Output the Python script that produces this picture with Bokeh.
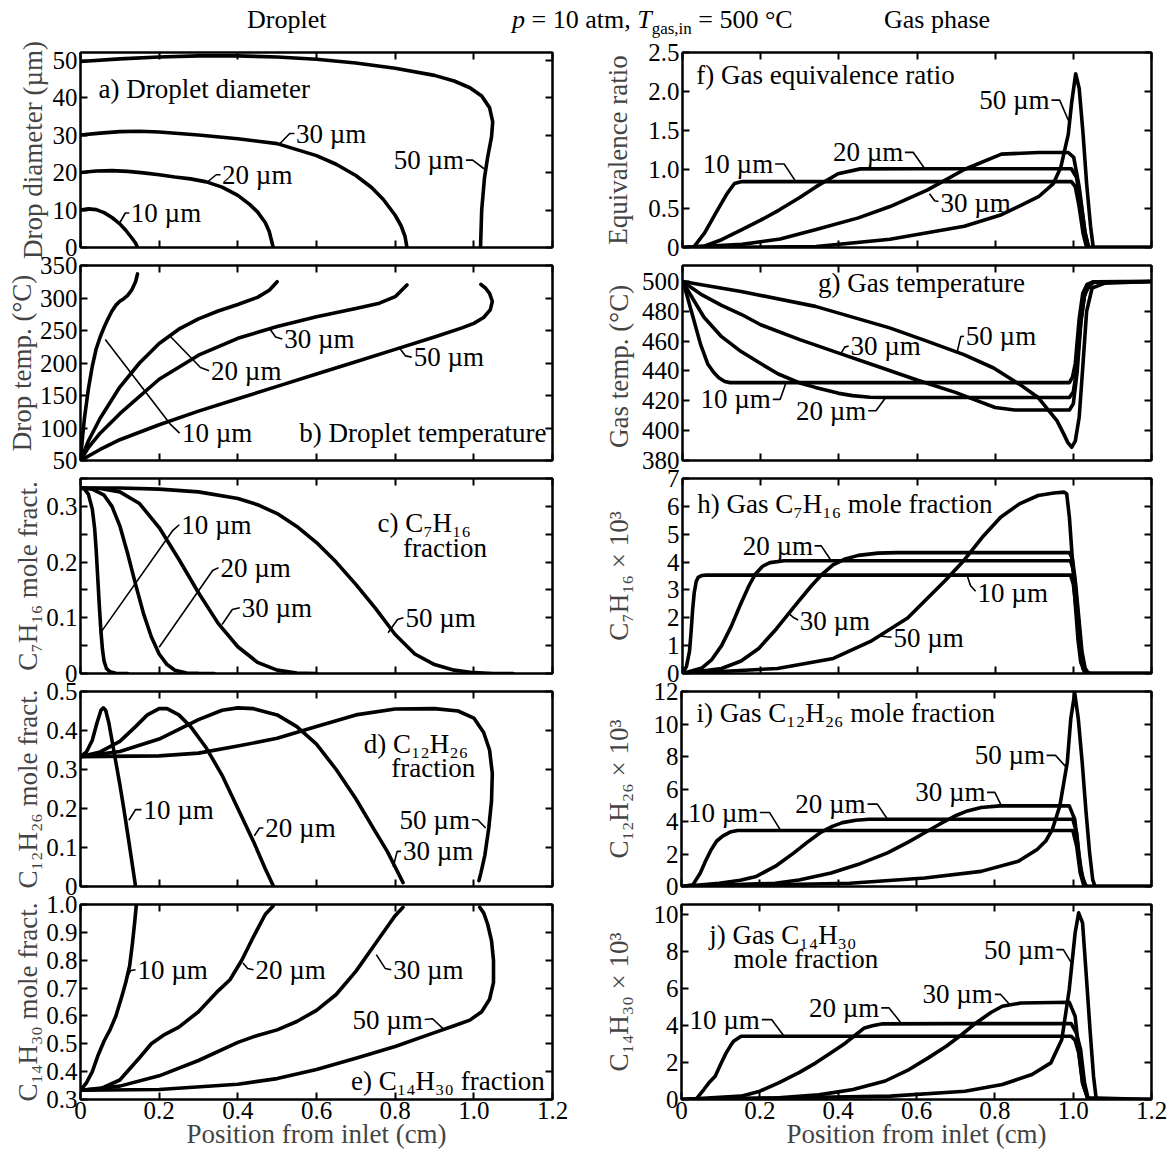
from bokeh.plotting import figure
from bokeh.models import (Range1d, LinearAxis, FixedTicker, CustomJSTickFormatter,
                          Label, Div, ColumnDataSource)
from bokeh.layouts import column, row
from bokeh.embed import file_html
from bokeh.resources import INLINE

FONT = "Liberation Serif"
TICK_FS = "25px"
AXIS_FS = "27px"
NOTE_FS = "27px"

# ---------------- axes ----------------
x_ticks = [0, 0.2, 0.4, 0.6, 0.8, 1.0, 1.2]
x_tick_labels = ["0", "0.2", "0.4", "0.6", "0.8", "1.0", "1.2"]

# ---------------- a) droplet diameter (um) ----------------
dd_x_10 = [0, 0.02, 0.04, 0.06, 0.08, 0.1, 0.115, 0.13, 0.14, 0.145]
dd_y_10 = [10, 10.3, 10.1, 9.3, 8.0, 6.3, 4.6, 2.6, 1.2, 0]
dd_x_20 = [0, 0.04, 0.08, 0.12, 0.16, 0.2, 0.24, 0.28, 0.32, 0.36, 0.4, 0.43, 0.45, 0.47, 0.48, 0.49]
dd_y_20 = [20, 20.4, 20.5, 20.3, 19.9, 19.4, 18.8, 18.3, 17.5, 16.1, 13.9, 11.5, 9.5, 6.6, 4.2, 0]
dd_x_30 = [0, 0.05, 0.1, 0.15, 0.2, 0.3, 0.4, 0.5, 0.6, 0.65, 0.7, 0.74, 0.77, 0.8, 0.815, 0.825, 0.83]
dd_y_30 = [30, 30.5, 30.9, 31.0, 30.8, 30.0, 29.0, 27.7, 24.5, 22.2, 19.2, 16.0, 12.8, 8.6, 5.8, 3.0, 0]
dd_x_50 = [0, 0.1, 0.2, 0.3, 0.4, 0.5, 0.6, 0.7, 0.8, 0.9, 0.95, 0.99, 1.02, 1.04, 1.048, 1.045, 1.035, 1.027, 1.02, 1.017]
dd_y_50 = [49.6, 50.3, 50.8, 51.1, 51.1, 50.8, 50.2, 49.2, 47.8, 45.9, 44.4, 42.6, 40.4, 37.3, 33.5, 29.5, 24.0, 18.5, 10.0, 0]

# ---------------- b) droplet temperature (C) ----------------
dt_x_10 = [0, 0.005, 0.01, 0.02, 0.03, 0.04, 0.05, 0.06, 0.07, 0.08, 0.09, 0.1, 0.11, 0.12, 0.13, 0.14, 0.145]
dt_y_10 = [50, 85, 115, 160, 195, 222, 240, 255, 268, 280, 289, 295, 299, 304, 312, 325, 337]
dt_x_20 = [0, 0.02, 0.05, 0.1, 0.15, 0.2, 0.25, 0.3, 0.35, 0.4, 0.45, 0.48, 0.5]
dt_y_20 = [50, 80, 115, 163, 200, 230, 252, 268, 280, 290, 301, 312, 325]
dt_x_30 = [0, 0.02, 0.05, 0.1, 0.2, 0.3, 0.4, 0.5, 0.6, 0.7, 0.76, 0.8, 0.83]
dt_y_30 = [50, 70, 92, 122, 175, 212, 238, 256, 271, 284, 292, 302, 320]
dt_x_50 = [0, 0.05, 0.1, 0.2, 0.3, 0.4, 0.5, 0.6, 0.7, 0.8, 0.9, 0.97, 1.0, 1.025, 1.042, 1.047, 1.04, 1.03, 1.018]
dt_y_50 = [50, 67, 82, 105, 126, 145, 164, 183, 202, 221, 240, 254, 261, 270, 282, 295, 307, 315, 321]

# ---------------- c) droplet C7H16 mole fraction ----------------
c7_x_10 = [0, 0.01, 0.02, 0.03, 0.036, 0.04, 0.044, 0.048, 0.052, 0.056, 0.06, 0.066, 0.075, 0.09, 0.12]
c7_y_10 = [0.333, 0.331, 0.322, 0.295, 0.26, 0.22, 0.17, 0.12, 0.075, 0.042, 0.022, 0.009, 0.003, 0.0005, 0]
c7_x_20 = [0, 0.03, 0.06, 0.08, 0.1, 0.12, 0.14, 0.16, 0.18, 0.2, 0.22, 0.24, 0.27, 0.3, 0.34]
c7_y_20 = [0.333, 0.331, 0.32, 0.3, 0.265, 0.215, 0.16, 0.108, 0.066, 0.035, 0.016, 0.006, 0.001, 0.0002, 0]
c7_x_30 = [0, 0.05, 0.1, 0.15, 0.2, 0.25, 0.3, 0.35, 0.4, 0.45, 0.5, 0.55, 0.6]
c7_y_30 = [0.333, 0.332, 0.326, 0.305, 0.262, 0.205, 0.145, 0.09, 0.048, 0.02, 0.006, 0.001, 0]
c7_x_50 = [0, 0.1, 0.2, 0.3, 0.4, 0.45, 0.5, 0.55, 0.6, 0.65, 0.7, 0.75, 0.8, 0.85, 0.9, 0.95, 1.0, 1.05, 1.1]
c7_y_50 = [0.333, 0.333, 0.331, 0.326, 0.314, 0.303, 0.287, 0.264, 0.235, 0.2, 0.16, 0.117, 0.07, 0.035, 0.016, 0.006, 0.0015, 0, 0]

# ---------------- d) droplet C12H26 mole fraction ----------------
c12_x_10 = [0, 0.015, 0.03, 0.042, 0.052, 0.058, 0.064, 0.072, 0.08, 0.09, 0.1, 0.11, 0.12, 0.13, 0.14]
c12_y_10 = [0.333, 0.345, 0.375, 0.42, 0.452, 0.458, 0.452, 0.42, 0.375, 0.318, 0.262, 0.2, 0.135, 0.068, 0]
c12_x_20 = [0, 0.05, 0.1, 0.14, 0.17, 0.2, 0.22, 0.25, 0.28, 0.32, 0.36, 0.4, 0.44, 0.47, 0.49]
c12_y_20 = [0.333, 0.345, 0.372, 0.41, 0.44, 0.456, 0.456, 0.44, 0.41, 0.355, 0.285, 0.2, 0.115, 0.045, 0.002]
c12_x_30 = [0, 0.1, 0.2, 0.3, 0.36, 0.4, 0.44, 0.5, 0.55, 0.6, 0.65, 0.7, 0.75, 0.78, 0.8, 0.82]
c12_y_30 = [0.333, 0.346, 0.378, 0.428, 0.452, 0.458, 0.456, 0.44, 0.41, 0.365, 0.3, 0.225, 0.14, 0.09, 0.05, 0.01]
c12_x_50 = [0, 0.2, 0.3, 0.4, 0.5, 0.6, 0.7, 0.8, 0.9, 0.96, 1.0, 1.025, 1.04, 1.047, 1.045, 1.038, 1.028, 1.018, 1.013]
c12_y_50 = [0.333, 0.335, 0.342, 0.36, 0.38, 0.41, 0.44, 0.455, 0.456, 0.45, 0.432, 0.395, 0.35, 0.29, 0.22, 0.15, 0.08, 0.035, 0.015]

# ---------------- e) droplet C14H30 mole fraction ----------------
c14_x_10 = [0, 0.015, 0.03, 0.045, 0.06, 0.075, 0.09, 0.105, 0.115, 0.125, 0.132, 0.138, 0.142]
c14_y_10 = [0.333, 0.36, 0.4, 0.46, 0.51, 0.55, 0.6, 0.67, 0.72, 0.78, 0.86, 0.94, 1.0]
c14_x_20 = [0, 0.05, 0.1, 0.15, 0.18, 0.21, 0.25, 0.3, 0.35, 0.38, 0.41, 0.44, 0.47, 0.49]
c14_y_20 = [0.333, 0.338, 0.37, 0.45, 0.5, 0.53, 0.56, 0.615, 0.69, 0.73, 0.8, 0.885, 0.965, 0.995]
c14_x_30 = [0, 0.1, 0.2, 0.3, 0.4, 0.45, 0.5, 0.55, 0.6, 0.65, 0.7, 0.75, 0.78, 0.8, 0.82]
c14_y_30 = [0.333, 0.348, 0.385, 0.44, 0.505, 0.53, 0.55, 0.58, 0.62, 0.677, 0.76, 0.86, 0.92, 0.96, 0.99]
c14_x_50 = [0, 0.2, 0.4, 0.5, 0.6, 0.7, 0.8, 0.9, 0.95, 0.99, 1.02, 1.04, 1.05, 1.05, 1.045, 1.035, 1.025, 1.015]
c14_y_50 = [0.333, 0.336, 0.355, 0.375, 0.408, 0.448, 0.49, 0.54, 0.565, 0.585, 0.615, 0.66, 0.72, 0.8, 0.87, 0.93, 0.97, 0.99]

# ---------------- f) gas equivalence ratio ----------------
phi_x_10 = [0, 0.028, 0.057, 0.085, 0.114, 0.133, 0.152, 0.5, 0.995, 1.005, 1.015, 1.025, 1.034, 1.2]
phi_y_10 = [0, 0, 0.19, 0.44, 0.69, 0.82, 0.845, 0.845, 0.845, 0.78, 0.52, 0.18, 0, 0]
phi_x_20 = [0, 0.057, 0.1, 0.152, 0.2, 0.247, 0.3, 0.342, 0.398, 0.455, 0.6, 0.8, 0.995, 1.008, 1.02, 1.03, 1.039, 1.2]
phi_y_20 = [0, 0.02, 0.1, 0.23, 0.35, 0.48, 0.64, 0.78, 0.945, 1.008, 1.01, 1.01, 1.01, 0.9, 0.55, 0.19, 0, 0]
phi_x_30 = [0, 0.152, 0.25, 0.342, 0.45, 0.531, 0.626, 0.721, 0.816, 0.911, 0.987, 1.001, 1.015, 1.03, 1.039, 1.2]
phi_y_30 = [0, 0.04, 0.11, 0.23, 0.38, 0.525, 0.735, 1.0, 1.197, 1.218, 1.218, 1.155, 0.777, 0.19, 0, 0]
phi_x_50 = [0, 0.342, 0.531, 0.721, 0.816, 0.911, 0.949, 0.968, 0.987, 0.996, 1.006, 1.015, 1.025, 1.034, 1.044, 1.051, 1.2]
phi_y_50 = [0, 0.012, 0.105, 0.273, 0.42, 0.651, 0.82, 1.03, 1.45, 1.87, 2.227, 2.04, 1.45, 0.82, 0.273, 0, 0]

# ---------------- g) gas temperature (C) ----------------
tg_x_10 = [0, 0.01, 0.027, 0.046, 0.065, 0.08, 0.093, 0.108, 0.122, 0.5, 0.99, 0.998, 1.005, 1.015, 1.024, 1.035, 1.05, 1.2]
tg_y_10 = [500, 492, 476, 458, 444.5, 439, 435.5, 433, 432.2, 432.2, 432.2, 436, 445, 475, 492, 498, 499.7, 500]
tg_x_20 = [0, 0.055, 0.1, 0.15, 0.2, 0.245, 0.3, 0.34, 0.4, 0.435, 0.48, 0.52, 0.99, 1.0, 1.008, 1.018, 1.028, 1.04, 1.055, 1.2]
tg_y_20 = [500, 476, 463, 453, 445, 438, 432, 429, 425, 423.5, 422.4, 422.2, 422.2, 426, 440, 470, 490, 497.5, 499.7, 500]
tg_x_30 = [0, 0.05, 0.1, 0.15, 0.2, 0.3, 0.4, 0.5, 0.6, 0.7, 0.75, 0.8, 0.85, 0.99, 1.0, 1.01, 1.02, 1.03, 1.05, 1.2]
tg_y_30 = [500, 491, 484, 478, 471, 461, 452, 443, 434, 425.5, 420.5, 415.5, 413.8, 413.8, 418, 440, 475, 493, 499.5, 500]
tg_x_50 = [0, 0.15, 0.34, 0.53, 0.62, 0.72, 0.796, 0.863, 0.91, 0.958, 0.975, 0.986, 0.996, 1.005, 1.015, 1.024, 1.034, 1.048, 1.081, 1.2]
tg_y_50 = [500, 493.3, 483.3, 468.9, 460.5, 451, 442, 431, 422.2, 406.7, 398, 392, 388.9, 393, 409, 442, 480, 495.6, 498.9, 500]

# ---------------- h) gas C7H16 mole fraction x 10^3 ----------------
g7_x_10 = [0, 0.01, 0.018, 0.022, 0.026, 0.03, 0.035, 0.04, 0.05, 0.06, 0.5, 0.993, 1.0, 1.008, 1.016, 1.024, 1.03, 1.2]
g7_y_10 = [0, 0.25, 0.8, 1.5, 2.3, 2.9, 3.3, 3.45, 3.52, 3.53, 3.53, 3.53, 3.2, 2.2, 1.0, 0.2, 0, 0]
g7_x_20 = [0, 0.05, 0.075, 0.1, 0.125, 0.148, 0.17, 0.186, 0.205, 0.224, 0.26, 0.6, 0.993, 1.002, 1.01, 1.018, 1.026, 1.034, 1.2]
g7_y_20 = [0, 0.2, 0.5, 1.0, 1.7, 2.47, 3.15, 3.56, 3.85, 3.98, 4.05, 4.05, 4.05, 3.6, 2.4, 1.1, 0.25, 0, 0]
g7_x_30 = [0, 0.1, 0.15, 0.195, 0.24, 0.29, 0.33, 0.357, 0.385, 0.414, 0.45, 0.5, 0.55, 0.99, 0.998, 1.006, 1.014, 1.022, 1.03, 1.038, 1.2]
g7_y_30 = [0, 0.18, 0.45, 0.9, 1.6, 2.47, 3.15, 3.56, 3.9, 4.1, 4.24, 4.32, 4.34, 4.34, 4.1, 3.2, 2.0, 0.8, 0.2, 0, 0]
g7_x_50 = [0, 0.243, 0.386, 0.481, 0.576, 0.671, 0.719, 0.767, 0.814, 0.862, 0.91, 0.95, 0.976, 0.983, 0.99, 0.997, 1.005, 1.012, 1.019, 1.03, 1.043, 1.2]
g7_y_50 = [0, 0.18, 0.54, 1.15, 1.99, 3.32, 4.04, 4.89, 5.61, 6.09, 6.39, 6.48, 6.51, 6.45, 5.6, 4.2, 2.5, 1.2, 0.4, 0.08, 0, 0]

# ---------------- i) gas C12H26 mole fraction x 10^3 ----------------
g12_x_10 = [0, 0.029, 0.048, 0.062, 0.076, 0.09, 0.105, 0.124, 0.143, 0.5, 0.999, 1.009, 1.018, 1.028, 1.2]
g12_y_10 = [0, 0.1, 0.83, 1.6, 2.28, 2.8, 3.1, 3.35, 3.45, 3.45, 3.45, 2.48, 0.83, 0, 0]
g12_x_20 = [0, 0.096, 0.15, 0.191, 0.24, 0.287, 0.32, 0.354, 0.385, 0.411, 0.445, 0.478, 0.7, 0.999, 1.009, 1.018, 1.028, 1.035, 1.2]
g12_y_20 = [0, 0.2, 0.38, 0.62, 1.25, 2.07, 2.7, 3.31, 3.7, 3.93, 4.08, 4.14, 4.14, 4.14, 3.31, 1.24, 0.2, 0, 0]
g12_x_30 = [0, 0.239, 0.3, 0.382, 0.45, 0.526, 0.58, 0.621, 0.66, 0.698, 0.73, 0.765, 0.813, 0.99, 1.004, 1.014, 1.023, 1.033, 1.2]
g12_y_30 = [0, 0.2, 0.4, 0.83, 1.35, 2.07, 2.75, 3.31, 3.85, 4.34, 4.65, 4.86, 4.96, 4.96, 4.14, 2.07, 0.62, 0, 0]
g12_x_50 = [0, 0.43, 0.621, 0.765, 0.86, 0.908, 0.93, 0.947, 0.966, 0.985, 0.994, 1.004, 1.013, 1.023, 1.033, 1.042, 1.05, 1.056, 1.2]
g12_y_50 = [0, 0.2, 0.52, 0.93, 1.55, 2.28, 2.8, 3.52, 4.96, 7.65, 10.34, 11.9, 10.34, 7.65, 4.55, 2.07, 0.41, 0, 0]

# ---------------- j) gas C14H30 mole fraction x 10^3 ----------------
g14_x_10 = [0, 0.038, 0.057, 0.07, 0.086, 0.1, 0.114, 0.125, 0.133, 0.152, 0.5, 0.995, 1.005, 1.014, 1.024, 1.038, 1.2]
g14_y_10 = [0, 0.04, 0.54, 0.9, 1.26, 1.9, 2.52, 2.9, 3.15, 3.42, 3.42, 3.42, 3.2, 2.52, 0.9, 0, 0]
g14_x_20 = [0, 0.152, 0.2, 0.248, 0.3, 0.343, 0.38, 0.419, 0.445, 0.467, 0.49, 0.514, 0.7, 0.995, 1.008, 1.019, 1.029, 1.038, 1.2]
g14_y_20 = [0, 0.18, 0.45, 0.9, 1.45, 1.98, 2.5, 3.06, 3.5, 3.87, 4.0, 4.09, 4.1, 4.1, 3.6, 2.7, 0.9, 0.09, 0]
g14_x_30 = [0, 0.248, 0.35, 0.438, 0.52, 0.581, 0.63, 0.676, 0.715, 0.752, 0.79, 0.819, 0.867, 0.99, 1.005, 1.014, 1.024, 1.038, 1.2]
g14_y_30 = [0, 0.09, 0.25, 0.54, 1.0, 1.62, 2.25, 2.88, 3.5, 4.14, 4.7, 5.04, 5.22, 5.26, 4.5, 2.7, 0.9, 0, 0]
g14_x_50 = [0, 0.533, 0.724, 0.819, 0.895, 0.943, 0.971, 0.99, 1.005, 1.014, 1.024, 1.033, 1.043, 1.052, 1.059, 1.2]
g14_y_50 = [0, 0.18, 0.45, 0.81, 1.35, 1.98, 3.24, 5.95, 9.0, 10.09, 9.55, 6.85, 3.78, 1.26, 0, 0]


def tick_fmt(vals, labels):
    return CustomJSTickFormatter(args=dict(tv=vals, tl=labels), code="""
        let best = 0; let bd = Infinity;
        for (let i = 0; i < tv.length; i++) {
            const d = Math.abs(tv[i] - tick);
            if (d < bd) { bd = d; best = i; }
        }
        return tl[best];
    """)


def make_axis(ticks, labels, show, standoff=3):
    ax = LinearAxis(ticker=FixedTicker(ticks=ticks, minor_ticks=[]),
                    formatter=tick_fmt(ticks, labels),
                    major_tick_in=7, major_tick_out=0,
                    major_tick_line_width=2, major_tick_line_color="black",
                    minor_tick_line_color=None,
                    axis_line_width=2, axis_line_color="black")
    if show:
        ax.major_label_text_font = FONT
        ax.major_label_text_font_size = TICK_FS
        ax.major_label_text_color = "black"
        ax.major_label_standoff = standoff
    else:
        ax.major_label_text_color = None
        ax.major_label_standoff = 0
    return ax


EXTRA = 12  # canvas overlap so that edge tick labels are not clipped


def make_panel(width, height, borders, pos, yr, yticks, ylabels, ylabel, ylab_standoff,
               series, notes, bottom=False):
    bl, br, bt, bb = borders
    mt = mb = 0
    if pos in ("mid", "last"):
        bt += EXTRA
        height += EXTRA
        mt = -EXTRA
    if pos in ("first", "mid"):
        bb += EXTRA
        height += EXTRA
        mb = -EXTRA
    p = figure(width=width, height=height, x_range=Range1d(0, 1.2), y_range=Range1d(*yr),
               output_backend="svg", toolbar_location=None, tools="",
               min_border=0, min_border_left=bl, min_border_right=br,
               min_border_top=bt, min_border_bottom=bb,
               x_axis_location=None, y_axis_location=None,
               background_fill_color="white", border_fill_color=None,
               margin=(mt, 0, mb, 0))
    p.outline_line_color = "black"
    p.outline_line_width = 2
    for g in p.grid:
        g.visible = False

    yl = make_axis(yticks, ylabels, True, 3)
    yl.axis_label = ylabel
    yl.axis_label_text_font = FONT
    yl.axis_label_text_font_size = AXIS_FS
    yl.axis_label_text_font_style = "normal"
    yl.axis_label_standoff = ylab_standoff
    p.add_layout(yl, "left")
    p.add_layout(make_axis(yticks, ylabels, False), "right")
    p.add_layout(make_axis(x_ticks, x_tick_labels, False), "above")
    xb = make_axis(x_ticks, x_tick_labels, bottom, 2)
    if bottom:
        xb.axis_label = "Position from inlet (cm)"
        xb.axis_label_text_font = FONT
        xb.axis_label_text_font_size = AXIS_FS
        xb.axis_label_text_font_style = "normal"
        xb.axis_label_standoff = -3
    p.add_layout(xb, "below")

    for xs, ys in series:
        p.line(xs, ys, line_color="black", line_width=3.6, line_join="round", line_cap="round")

    lx, ly = [], []
    for (txt, tx, ty, align, leader) in notes:
        p.add_layout(Label(x=tx, y=ty, text=txt, text_font=FONT, text_font_size=NOTE_FS,
                           text_color="black", text_baseline="middle", text_align=align))
        if leader:
            lx.append([pt[0] for pt in leader])
            ly.append([pt[1] for pt in leader])
    if lx:
        p.multi_line(xs="xs", ys="ys", source=ColumnDataSource(dict(xs=lx, ys=ly)),
                     line_color="black", line_width=1.6)
    return p


LW, RW = 600, 572
LB = (80, 48)
RB = (79, 21)

# row heights / vertical borders (height, top, bottom)
R1 = (220, 16, 9)
RM = (213, 9, 9)
R5 = (261, 9, 57)

pa = make_panel(LW, R1[0], LB + R1[1:], "first", (0, 52), [0, 10, 20, 30, 40, 50],
                ["0", "10", "20", "30", "40", "50"], "Drop diameter (µm)", 2,
                [(dd_x_10, dd_y_10), (dd_x_20, dd_y_20), (dd_x_30, dd_y_30), (dd_x_50, dd_y_50)],
                [("a) Droplet diameter", 0.046, 42.3, "left", None),
                 ("10 µm", 0.128, 9.2, "left", [(0.1, 6.6), (0.114, 9.2), (0.124, 9.2)]),
                 ("20 µm", 0.36, 19.4, "left", [(0.322, 17.4), (0.345, 19.4), (0.356, 19.4)]),
                 ("30 µm", 0.548, 30.4, "left", [(0.506, 27.6), (0.532, 30.4), (0.544, 30.4)]),
                 ("50 µm", 0.975, 23.3, "right", [(0.98, 23.3), (0.997, 23.3), (1.026, 21.0)])])

pb = make_panel(LW, RM[0], LB + RM[1:], "mid", (50, 350), [50, 100, 150, 200, 250, 300, 350],
                ["50", "100", "150", "200", "250", "300", "350"], "Drop temp. (°C)", 0,
                [(dt_x_10, dt_y_10), (dt_x_20, dt_y_20), (dt_x_30, dt_y_30), (dt_x_50, dt_y_50)],
                [("b) Droplet temperature", 1.185, 92, "right", None),
                 ("10 µm", 0.258, 92, "left", [(0.063, 236), (0.228, 106), (0.252, 92)]),
                 ("20 µm", 0.332, 188, "left", [(0.225, 243), (0.305, 193), (0.327, 188)]),
                 ("30 µm", 0.518, 237, "left", [(0.482, 252), (0.496, 240), (0.513, 237)]),
                 ("50 µm", 0.847, 209, "left", [(0.811, 223), (0.826, 211), (0.842, 209)])])

pc = make_panel(LW, RM[0], LB + RM[1:], "mid", (0, 0.35), [0, 0.05, 0.1, 0.15, 0.2, 0.25, 0.3, 0.35],
                ["0", "", "0.1", "", "0.2", "", "0.3", ""], "C₇H₁₆ mole fract.", 0,
                [(c7_x_10, c7_y_10), (c7_x_20, c7_y_20), (c7_x_30, c7_y_30), (c7_x_50, c7_y_50)],
                [("c) C₇H₁₆", 0.755, 0.27, "left", None),
                 ("fraction", 0.82, 0.226, "left", None),
                 ("10 µm", 0.256, 0.267, "left", [(0.05, 0.072), (0.235, 0.257), (0.251, 0.267)]),
                 ("20 µm", 0.356, 0.19, "left", [(0.2, 0.047), (0.336, 0.185), (0.351, 0.19)]),
                 ("30 µm", 0.41, 0.118, "left", [(0.36, 0.088), (0.386, 0.115), (0.405, 0.118)]),
                 ("50 µm", 0.826, 0.1, "left", [(0.782, 0.073), (0.806, 0.097), (0.821, 0.1)])])

pd_ = make_panel(LW, RM[0], LB + RM[1:], "mid", (0, 0.5), [0, 0.1, 0.2, 0.3, 0.4, 0.5],
                 ["0", "0.1", "0.2", "0.3", "0.4", "0.5"], "C₁₂H₂₆ mole fract.", 0,
                 [(c12_x_10, c12_y_10), (c12_x_20, c12_y_20), (c12_x_30, c12_y_30), (c12_x_50, c12_y_50)],
                 [("d) C₁₂H₂₆", 0.72, 0.366, "left", None),
                  ("fraction", 0.79, 0.305, "left", None),
                  ("10 µm", 0.16, 0.197, "left", [(0.123, 0.17), (0.14, 0.197), (0.155, 0.197)]),
                  ("20 µm", 0.47, 0.15, "left", [(0.442, 0.13), (0.455, 0.15), (0.465, 0.15)]),
                  ("50 µm", 0.99, 0.171, "right", [(0.995, 0.171), (1.01, 0.171), (1.03, 0.15)]),
                  ("30 µm", 0.82, 0.09, "left", [(0.795, 0.05), (0.805, 0.09), (0.815, 0.09)])])

pe = make_panel(LW, R5[0], LB + R5[1:], "last", (0.3, 1.0), [0.3, 0.4, 0.5, 0.6, 0.7, 0.8, 0.9, 1.0],
                ["0.3", "0.4", "0.5", "0.6", "0.7", "0.8", "0.9", "1.0"], "C₁₄H₃₀ mole fract.", 0,
                [(c14_x_10, c14_y_10), (c14_x_20, c14_y_20), (c14_x_30, c14_y_30), (c14_x_50, c14_y_50)],
                [("e) C₁₄H₃₀ fraction", 1.18, 0.366, "right", None),
                 ("10 µm", 0.145, 0.766, "left", [(0.12, 0.745), (0.128, 0.763), (0.14, 0.766)]),
                 ("20 µm", 0.445, 0.766, "left", [(0.413, 0.79), (0.425, 0.77), (0.44, 0.766)]),
                 ("30 µm", 0.795, 0.766, "left", [(0.752, 0.82), (0.775, 0.77), (0.79, 0.766)]),
                 ("50 µm", 0.87, 0.587, "right", [(0.875, 0.587), (0.895, 0.59), (0.925, 0.55)])],
                bottom=True)

pf = make_panel(RW, R1[0], RB + R1[1:], "first", (0, 2.5), [0, 0.5, 1.0, 1.5, 2.0, 2.5],
                ["0", "0.5", "1.0", "1.5", "2.0", "2.5"], "Equivalence ratio", 12,
                [(phi_x_10, phi_y_10), (phi_x_20, phi_y_20), (phi_x_30, phi_y_30), (phi_x_50, phi_y_50)],
                [("f) Gas equivalence ratio", 0.035, 2.21, "left", None),
                 ("50 µm", 0.939, 1.89, "right", [(0.944, 1.89), (0.965, 1.89), (0.99, 1.6)]),
                 ("10 µm", 0.232, 1.07, "right", [(0.237, 1.07), (0.26, 1.07), (0.29, 0.845)]),
                 ("20 µm", 0.565, 1.22, "right", [(0.569, 1.22), (0.59, 1.22), (0.62, 1.01)]),
                 ("30 µm", 0.66, 0.567, "left", [(0.632, 0.69), (0.645, 0.6), (0.655, 0.59)])])

pg = make_panel(RW, RM[0], RB + RM[1:], "mid", (380, 510.7), [380, 400, 420, 440, 460, 480, 500],
                ["380", "400", "420", "440", "460", "480", "500"], "Gas  temp. (°C)", 5,
                [(tg_x_10, tg_y_10), (tg_x_20, tg_y_20), (tg_x_30, tg_y_30), (tg_x_50, tg_y_50)],
                [("g) Gas temperature", 0.347, 499, "left", None),
                 ("50 µm", 0.725, 463.3, "left", [(0.703, 453), (0.712, 463), (0.72, 463.3)]),
                 ("30 µm", 0.43, 456.7, "left", [(0.405, 451.5), (0.415, 456), (0.425, 456.7)]),
                 ("10 µm", 0.226, 421, "right", [(0.231, 421), (0.25, 421), (0.265, 432.2)]),
                 ("20 µm", 0.47, 413.3, "right", [(0.475, 413.3), (0.495, 413.3), (0.52, 422.2)])])

ph = make_panel(RW, RM[0], RB + RM[1:], "mid", (0, 7), [0, 1, 2, 3, 4, 5, 6, 7],
                ["0", "1", "2", "3", "4", "5", "6", "7"], "C₇H₁₆ × 10³", 30,
                [(g7_x_10, g7_y_10), (g7_x_20, g7_y_20), (g7_x_30, g7_y_30), (g7_x_50, g7_y_50)],
                [("h) Gas C₇H₁₆ mole fraction", 0.038, 6.09, "left", None),
                 ("20 µm", 0.334, 4.58, "right", [(0.338, 4.58), (0.355, 4.58), (0.378, 4.1)]),
                 ("10 µm", 0.755, 2.9, "left", [(0.728, 3.53), (0.737, 3.15), (0.75, 2.95)]),
                 ("30 µm", 0.3, 1.87, "left", [(0.272, 2.16), (0.285, 2.0), (0.296, 1.92)]),
                 ("50 µm", 0.54, 1.27, "left", [(0.505, 1.35), (0.522, 1.32), (0.535, 1.3)])])

pi = make_panel(RW, RM[0], RB + RM[1:], "mid", (0, 12), [0, 2, 4, 6, 8, 10, 12],
                ["0", "2", "4", "6", "8", "10", "12"], "C₁₂H₂₆ × 10³", 17,
                [(g12_x_10, g12_y_10), (g12_x_20, g12_y_20), (g12_x_30, g12_y_30), (g12_x_50, g12_y_50)],
                [("i) Gas C₁₂H₂₆ mole fraction", 0.038, 10.65, "left", None),
                 ("10 µm", 0.196, 4.55, "right", [(0.2, 4.55), (0.225, 4.55), (0.253, 3.45)]),
                 ("20 µm", 0.47, 5.07, "right", [(0.475, 5.07), (0.5, 5.07), (0.526, 4.14)]),
                 ("30 µm", 0.776, 5.79, "right", [(0.78, 5.79), (0.8, 5.79), (0.817, 4.96)]),
                 ("50 µm", 0.928, 8.07, "right", [(0.932, 8.07), (0.955, 8.07), (0.98, 7.4)])])

pj = make_panel(RW, R5[0], RB + R5[1:], "last", (0, 10.54), [0, 2, 4, 6, 8, 10],
                ["0", "2", "4", "6", "8", "10"], "C₁₄H₃₀ × 10³", 17,
                [(g14_x_10, g14_y_10), (g14_x_20, g14_y_20), (g14_x_30, g14_y_30), (g14_x_50, g14_y_50)],
                [("j) Gas C₁₄H₃₀", 0.071, 8.9, "left", None),
                 ("mole fraction", 0.133, 7.6, "left", None),
                 ("10 µm", 0.2, 4.32, "right", [(0.205, 4.32), (0.23, 4.32), (0.262, 3.42)]),
                 ("20 µm", 0.505, 4.95, "right", [(0.51, 4.95), (0.53, 4.95), (0.562, 4.1)]),
                 ("30 µm", 0.795, 5.68, "right", [(0.8, 5.68), (0.815, 5.68), (0.838, 5.13)]),
                 ("50 µm", 0.952, 8.1, "right", [(0.957, 8.1), (0.975, 8.1), (0.995, 7.4)])],
                bottom=True)

title = Div(width=1172, height=36, margin=(0, 0, 0, 0), text=(
    "<div style=\"position:relative;width:1172px;height:36px;font-family:'Liberation Serif',serif;"
    "font-size:26px;line-height:28px;color:#000;white-space:nowrap\">"
    "<span style=\"position:absolute;left:247px;top:6px\">Droplet</span>"
    "<span style=\"position:absolute;left:512px;top:6px\"><i>p</i> = 10 atm, <i>T</i>"
    "<sub style=\"font-size:17px;line-height:0\">gas,in</sub> = 500 °C</span>"
    "<span style=\"position:absolute;left:884px;top:6px\">Gas phase</span></div>"))

layout = column(title, row(pa, pf), row(pb, pg), row(pc, ph), row(pd_, pi), row(pe, pj))

open("out.html", "w").write(file_html(layout, INLINE))
